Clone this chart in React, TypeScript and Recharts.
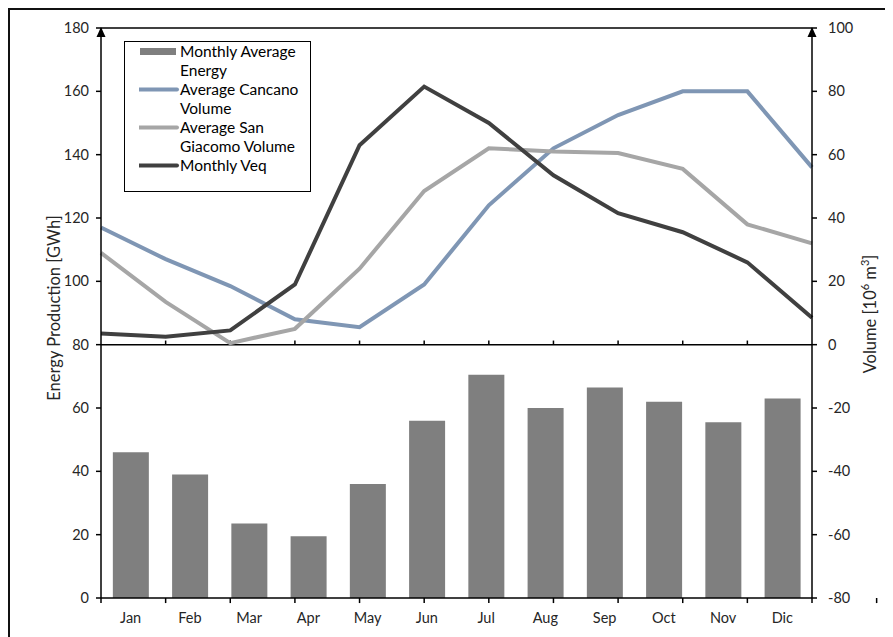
import React from 'react';
import {
  ComposedChart,
  Bar,
  Line,
  XAxis,
  YAxis,
  ReferenceLine,
  Legend
} from 'recharts';

// values
const months = ['Jan', 'Feb', 'Mar', 'Apr', 'May', 'Jun', 'Jul', 'Aug', 'Sep', 'Oct', 'Nov', 'Dic'];
const monthlyEnergy = [46, 39, 23.5, 19.5, 36, 56, 70.5, 60, 66.5, 62, 55.5, 63];
const cancanoVolume = [37, 27, 18.5, 8, 5.5, 19, 44, 62, 72.5, 80, 80, 56];
const sanGiacomoVolume = [29, 13.5, 0.5, 5, 24, 48.5, 62, 61, 60.5, 55.5, 38, 32];
const monthlyVeq = [3.5, 2.5, 4.5, 19, 63, 81.5, 70, 53.5, 41.5, 35.5, 26, 8.5];

const energyTicks = [0, 20, 40, 60, 80, 100, 120, 140, 160, 180];
const volumeTicks = [-80, -60, -40, -20, 0, 20, 40, 60, 80, 100];
const bandEdges = [0, 1, 2, 3, 4, 5, 6, 7, 8, 9, 10, 11, 12];

const legendOrder = [
  'Monthly Average Energy',
  'Average Cancano Volume',
  'Average San Giacomo Volume',
  'Monthly Veq'
];

const chartData = months.map((month, i) => ({
  month,
  energy: monthlyEnergy[i],
  cancano: cancanoVolume[i],
  sanGiacomo: sanGiacomoVolume[i],
  veq: monthlyVeq[i]
}));

const textColor = '#262626';
const axisStroke = { stroke: '#000', strokeWidth: 1.5 };

const LeftAxisLabel = (props: any) => {
  const { x, y, width, height } = props.viewBox;
  const ax = x + width;
  const cx = x + 13;
  const cy = y + height / 2 - 5;
  return (
    <g>
      <path d={`M${ax},${y - 1} L${ax - 4.5},${y + 9} L${ax + 4.5},${y + 9} Z`} fill="#000" />
      <text
        x={cx}
        y={cy}
        transform={`rotate(-90, ${cx}, ${cy})`}
        textAnchor="middle"
        dominantBaseline="central"
        fontSize={16.5}
        fill={textColor}
      >
        Energy Production [GWh]
      </text>
    </g>
  );
};

const RightAxisLabel = (props: any) => {
  const { x, y, height } = props.viewBox;
  const cx = x + 58;
  const cy = y + height / 2 + 1;
  return (
    <g>
      <path d={`M${x},${y - 1} L${x - 4.5},${y + 9} L${x + 4.5},${y + 9} Z`} fill="#000" />
      <text
        x={cx}
        y={cy}
        transform={`rotate(-90, ${cx}, ${cy})`}
        textAnchor="middle"
        dominantBaseline="central"
        fontSize={16.5}
        fill={textColor}
      >
        Volume [10
        <tspan dy={-6} fontSize={11}>6</tspan>
        <tspan dy={6}> m</tspan>
        <tspan dy={-6} fontSize={11}>3</tspan>
        <tspan dy={6}>]</tspan>
      </text>
    </g>
  );
};

const LegendBox = (props: any) => {
  const items = [...(props.payload || [])].sort(
    (a: any, b: any) => legendOrder.indexOf(a.value) - legendOrder.indexOf(b.value)
  );
  return (
    <div
      style={{
        width: 187,
        height: 151,
        boxSizing: 'border-box',
        border: '1.5px solid #000',
        background: '#fff',
        paddingLeft: 14,
        fontSize: 15.5,
        lineHeight: '19px',
        color: '#000',
        textAlign: 'left'
      }}
    >
      {items.map((item: any) => (
        <div key={item.value} style={{ display: 'flex', alignItems: 'flex-start' }}>
          <svg width={41} height={19} style={{ flex: 'none' }}>
            {item.dataKey === 'energy' ? (
              <rect x={1} y={6} width={36} height={7} fill={item.color} />
            ) : (
              <line x1={0} y1={9.5} x2={38} y2={9.5} stroke={item.color} strokeWidth={4} strokeLinecap="round" />
            )}
          </svg>
          <span style={{ width: 124 }}>{item.value}</span>
        </div>
      ))}
    </div>
  );
};

export default function App() {
  return (
    <div style={{ position: 'relative', width: 885, height: 629, fontFamily: 'Lato, sans-serif' }}>
      <div
        style={{
          position: 'absolute',
          left: 0,
          top: 0,
          width: 885,
          height: 629,
          boxSizing: 'border-box',
          borderTop: '2px solid #111',
          borderLeft: '2px solid #111'
        }}
      />
      <div style={{ position: 'absolute', left: 0, top: 0 }}>
        <ComposedChart
          width={885}
          height={629}
          data={chartData}
          margin={{ top: 20, right: 21, bottom: 9, left: 33 }}
          barCategoryGap="20%"
        >
          <XAxis
            xAxisId="bar"
            dataKey="month"
            tickLine={false}
            tickSize={5}
            tickMargin={10}
            axisLine={axisStroke}
            tick={{ fontSize: 14.5, fill: textColor }}
            height={30}
            interval={0}
          />
          <XAxis xAxisId="line" dataKey="month" scale="point" hide />
          <XAxis xAxisId="num" type="number" domain={[0, 12]} allowDataOverflow hide />
          <YAxis
            yAxisId="left"
            domain={[0, 180]}
            ticks={energyTicks}
            interval={0}
            width={60}
            tickSize={5}
            tickMargin={7}
            tickLine={axisStroke}
            axisLine={axisStroke}
            tick={{ fontSize: 14.5, fill: textColor }}
            label={{ content: LeftAxisLabel }}
          />
          <YAxis
            yAxisId="right"
            orientation="right"
            domain={[-80, 100]}
            ticks={volumeTicks}
            interval={0}
            width={60}
            tickSize={5}
            tickMargin={11}
            tickLine={axisStroke}
            axisLine={axisStroke}
            tick={{ fontSize: 14.5, fill: textColor }}
            label={{ content: RightAxisLabel }}
          />

          <ReferenceLine xAxisId="bar" yAxisId="left" y={180} stroke="#000" strokeWidth={1.5} />
          <ReferenceLine xAxisId="line" yAxisId="right" y={0} stroke="#000" strokeWidth={1.5} />
          {months.slice(1, -1).map(m => (
            <ReferenceLine
              key={`mid-${m}`}
              xAxisId="line"
              yAxisId="right"
              segment={[{ x: m, y: 0 }, { x: m, y: 1.3 }]}
              stroke="#000"
              strokeWidth={1.5}
              ifOverflow="visible"
            />
          ))}
          {bandEdges.map(e => (
            <ReferenceLine
              key={`edge-${e}`}
              xAxisId="num"
              yAxisId="left"
              segment={[{ x: e, y: 0 }, { x: e, y: -1.6 }]}
              stroke="#000"
              strokeWidth={1.5}
              ifOverflow="visible"
            />
          ))}

          <Bar
            xAxisId="bar"
            yAxisId="left"
            dataKey="energy"
            name="Monthly Average Energy"
            fill="#7F7F7F"
            isAnimationActive={false}
          />
          <Line
            xAxisId="line"
            yAxisId="right"
            dataKey="cancano"
            name="Average Cancano Volume"
            stroke="#7F96B4"
            strokeWidth={4}
            dot={false}
            activeDot={false}
            isAnimationActive={false}
          />
          <Line
            xAxisId="line"
            yAxisId="right"
            dataKey="sanGiacomo"
            name="Average San Giacomo Volume"
            stroke="#A6A6A6"
            strokeWidth={4}
            dot={false}
            activeDot={false}
            isAnimationActive={false}
          />
          <Line
            xAxisId="line"
            yAxisId="right"
            dataKey="veq"
            name="Monthly Veq"
            stroke="#404040"
            strokeWidth={4}
            dot={false}
            activeDot={false}
            isAnimationActive={false}
          />
          <Legend
            layout="vertical"
            align="center"
            verticalAlign="middle"
            content={LegendBox}
            wrapperStyle={{ left: 116, top: 33, width: 187, height: 151 }}
          />
        </ComposedChart>
      </div>
    </div>
  );
}
